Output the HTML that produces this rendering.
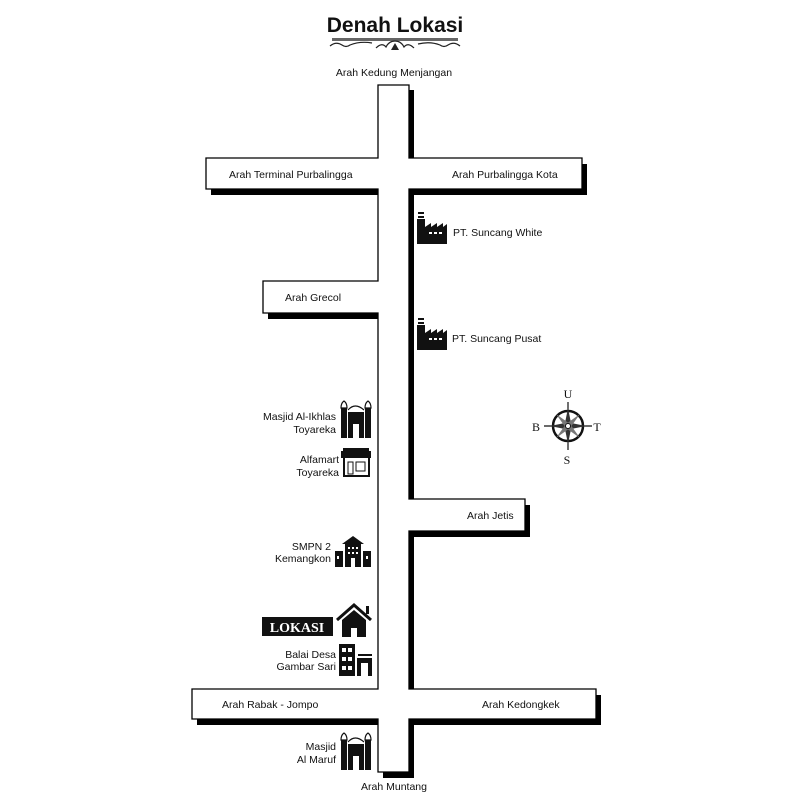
<!DOCTYPE html>
<html><head><meta charset="utf-8"><style>
html,body{margin:0;padding:0;background:#fff;}
svg{display:block}
text{font-family:"Liberation Sans",sans-serif;font-size:10.5px;fill:#111;}
</style></head><body>
<svg width="800" height="800" viewBox="0 0 800 800" xmlns="http://www.w3.org/2000/svg">
<rect width="800" height="800" fill="#fff"/>
<!-- Title -->
<text x="395" y="32" text-anchor="middle" style="font-size:21px;font-weight:bold;fill:#111">Denah Lokasi</text>
<rect x="332" y="38" width="126" height="3" fill="#666"/>
<path d="M330 46 q6 -5 12 -1 q4 3 8 0 q10 -4 22 -2 M418 44 q12 -3 22 1 q4 3 8 0 q6 -4 12 1" stroke="#222" stroke-width="1.2" fill="none"/>
<path d="M376 48 q6 -6 10 -1 q3 -6 9 -6 q6 0 9 6 q4 -5 10 1" stroke="#222" stroke-width="1.2" fill="none"/>
<path d="M391 50 l4 -7 l4 7 z" fill="#222"/>

<!-- Road shadow -->
<g transform="translate(5,6)">
<polygon fill="#000" points="378,85 409,85 409,158 582,158 582,189 409,189 409,499 525,499 525,531 409,531 409,689 596,689 596,719 409,719 409,772 378,772 378,719 192,719 192,689 378,689 378,313 263,313 263,281 378,281 378,189 206,189 206,158 378,158"/>
</g>
<polygon fill="#fff" stroke="#000" stroke-width="1.3" points="378,85 409,85 409,158 582,158 582,189 409,189 409,499 525,499 525,531 409,531 409,689 596,689 596,719 409,719 409,772 378,772 378,719 192,719 192,689 378,689 378,313 263,313 263,281 378,281 378,189 206,189 206,158 378,158"/>
<rect x="379" y="159" width="29" height="29" fill="#fff"/>
<rect x="379" y="282" width="29" height="30" fill="#fff"/>
<rect x="379" y="500" width="29" height="30" fill="#fff"/>
<rect x="379" y="690" width="29" height="28" fill="#fff"/>
<rect x="409" y="190" width="5" height="309" fill="#000"/>
<rect x="409" y="532" width="5" height="157" fill="#000"/>
<rect x="409" y="720" width="5" height="52" fill="#000"/>
<rect x="409" y="90" width="5" height="68" fill="#000"/>

<!-- Labels -->
<text x="394" y="76" text-anchor="middle">Arah Kedung Menjangan</text>
<text x="229" y="178">Arah Terminal Purbalingga</text>
<text x="452" y="178">Arah Purbalingga Kota</text>
<text x="285" y="301">Arah Grecol</text>
<text x="467" y="519">Arah Jetis</text>
<text x="222" y="708">Arah Rabak - Jompo</text>
<text x="482" y="708">Arah Kedongkek</text>
<text x="394" y="790" text-anchor="middle">Arah Muntang</text>

<!-- Factories -->
<g id="fac">
<rect x="418" y="212" width="6" height="2" fill="#111"/>
<rect x="418" y="216" width="6" height="2" fill="#111"/>
<path d="M417 219 h8 v8 l6 -4 v4 l6 -4 v4 l6 -4 v4 l4 -3 v20 h-30 z" fill="#111"/>
<g fill="#fff"><rect x="429" y="232" width="3" height="2"/><rect x="434" y="232" width="3" height="2"/><rect x="439" y="232" width="3" height="2"/></g>
</g>
<use href="#fac" transform="translate(0,106)"/>
<text x="453" y="236">PT. Suncang White</text>
<text x="452" y="342">PT. Suncang Pusat</text>

<!-- Mosque -->
<g id="mosque">
<path d="M341 408 q0 -5 3 -7 q3 2 3 7 z M365 408 q0 -5 3 -7 q3 2 3 7 z" fill="none" stroke="#111" stroke-width="1.2"/>
<path d="M348 410 q7 -8 16 0" fill="none" stroke="#111" stroke-width="1.2"/>
<rect x="341" y="408" width="6" height="30" fill="#111"/>
<rect x="365" y="408" width="6" height="30" fill="#111"/>
<path d="M348 412 h16 v26 h-5 v-14 h-6 v14 h-5 z" fill="#111"/>
</g>
<use href="#mosque" transform="translate(0,332)"/>
<text x="336" y="420" text-anchor="end">Masjid Al-Ikhlas</text>
<text x="336" y="433" text-anchor="end">Toyareka</text>
<text x="336" y="750" text-anchor="end">Masjid</text>
<text x="336" y="763" text-anchor="end">Al Maruf</text>

<!-- Alfamart -->
<rect x="343" y="448" width="26" height="3" fill="#111"/>
<path d="M341 451 h30 v7 h-30 z" fill="#111"/>
<path d="M344 458 v18 h25 v-18" fill="none" stroke="#111" stroke-width="2"/>
<rect x="348" y="462" width="5" height="12" fill="none" stroke="#111"/>
<rect x="356" y="462" width="9" height="9" fill="none" stroke="#111"/>
<text x="339" y="463" text-anchor="end">Alfamart</text>
<text x="339" y="476" text-anchor="end">Toyareka</text>

<!-- SMPN -->
<path d="M342 544 l11 -8 l11 8 z" fill="#111"/>
<rect x="345" y="544" width="16" height="23" fill="#111"/>
<rect x="335" y="551" width="8" height="16" fill="#111"/>
<rect x="363" y="551" width="8" height="16" fill="#111"/>
<g fill="#fff"><rect x="348" y="547" width="2" height="2"/><rect x="352" y="547" width="2" height="2"/><rect x="356" y="547" width="2" height="2"/><rect x="348" y="552" width="2" height="2"/><rect x="352" y="552" width="2" height="2"/><rect x="356" y="552" width="2" height="2"/><rect x="351" y="558" width="4" height="9"/><rect x="337" y="556" width="2" height="3"/><rect x="366" y="556" width="2" height="3"/></g>
<text x="331" y="550" text-anchor="end">SMPN 2</text>
<text x="331" y="562" text-anchor="end">Kemangkon</text>

<!-- Lokasi -->
<rect x="262" y="617" width="71" height="19" fill="#111"/>
<text x="297" y="632" text-anchor="middle" style="font-family:'Liberation Serif',serif;font-weight:bold;font-size:14px;fill:#fff">LOKASI</text>
<path d="M337 620 l17 -15 l17 15" fill="none" stroke="#111" stroke-width="3"/>
<rect x="366" y="606" width="3" height="8" fill="#111"/>
<path d="M342 620 l12 -10 l12 10 v17 h-9 v-9 h-6 v9 h-9 z" fill="#111"/>

<!-- Balai -->
<rect x="339" y="644" width="16" height="32" fill="#111"/>
<g fill="#fff"><rect x="342" y="648" width="4" height="4"/><rect x="348" y="648" width="4" height="4"/><rect x="342" y="657" width="4" height="4"/><rect x="348" y="657" width="4" height="4"/><rect x="342" y="666" width="4" height="4"/><rect x="348" y="666" width="4" height="4"/></g>
<rect x="358" y="654" width="14" height="2" fill="#111"/>
<path d="M357 658 h15 v18 h-4 v-13 h-7 v13 h-4 z" fill="#111"/>
<text x="336" y="658" text-anchor="end">Balai Desa</text>
<text x="336" y="670" text-anchor="end">Gambar Sari</text>

<!-- Compass -->
<g transform="translate(568,426)">
<circle r="15" fill="none" stroke="#111" stroke-width="2.5"/>
<line x1="0" y1="-24" x2="0" y2="24" stroke="#111" stroke-width="1.2"/>
<line x1="-24" y1="0" x2="24" y2="0" stroke="#111" stroke-width="1.2"/>
<path d="M0 -18 L3 -3 L18 0 L3 3 L0 18 L-3 3 L-18 0 L-3 -3 Z" fill="#333"/>
<path d="M-12 -12 L2 -2 L12 12 L-2 2 Z M12 -12 L2 2 L-12 12 L-2 -2 Z" fill="#777"/>
<circle r="2.5" fill="#fff" stroke="#111"/>
</g>
<text x="568" y="398" text-anchor="middle" style="font-family:'Liberation Serif',serif;font-size:12px">U</text>
<text x="536" y="431" text-anchor="middle" style="font-family:'Liberation Serif',serif;font-size:12px">B</text>
<text x="597" y="431" text-anchor="middle" style="font-family:'Liberation Serif',serif;font-size:12px">T</text>
<text x="567" y="464" text-anchor="middle" style="font-family:'Liberation Serif',serif;font-size:12px">S</text>
</svg>
</body></html>
